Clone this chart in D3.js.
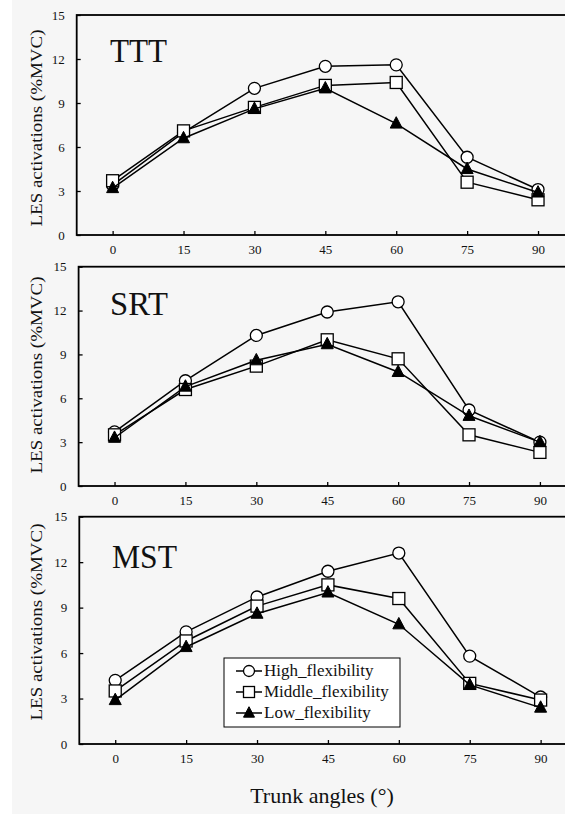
<!DOCTYPE html>
<html>
<head>
<meta charset="utf-8">
<script src="https://d3js.org/d3.v7.min.js"></script>
<style>
  body { margin: 0; background: #fff; }
  svg { display: block; }
  text { font-family: "Liberation Serif", "Times New Roman", serif; fill: #111; }
</style>
</head>
<body>
<svg id="chart" width="565" height="816"></svg>
<script>
// trunk angles (x categories)
var angles = [0, 15, 30, 45, 60, 75, 90];
var yTicks = [0, 3, 6, 9, 12, 15];

// values (%MVC)
var tttHigh   = [3.4, 7.0, 10.0, 11.5, 11.6, 5.3, 3.1];
var tttMiddle = [3.7, 7.1, 8.7, 10.2, 10.4, 3.6, 2.4];
var tttLow    = [3.2, 6.6, 8.6, 10.0, 7.6, 4.5, 2.9];

var srtHigh   = [3.7, 7.2, 10.3, 11.9, 12.6, 5.2, 3.0];
var srtMiddle = [3.5, 6.6, 8.2, 10.0, 8.7, 3.5, 2.3];
var srtLow    = [3.3, 6.8, 8.6, 9.7, 7.8, 4.8, 3.0];

var mstHigh   = [4.2, 7.4, 9.7, 11.4, 12.6, 5.8, 3.1];
var mstMiddle = [3.5, 6.8, 9.1, 10.5, 9.6, 4.0, 2.9];
var mstLow    = [2.9, 6.4, 8.6, 10.0, 7.9, 3.9, 2.4];

var seriesNames = ["High_flexibility", "Middle_flexibility", "Low_flexibility"];
var seriesSymbols = ["circle", "square", "triangle"];

var svg = d3.select("#chart");

// scanned-paper look
svg.append("rect").attr("x", 12).attr("y", 0).attr("width", 553).attr("height", 814).attr("fill", "#f6f6f6");

function marker(g, kind, cx, cy, size) {
  if (kind == "circle") {
    g.append("circle").attr("cx", cx).attr("cy", cy).attr("r", size / 2)
      .attr("fill", "#fff").attr("stroke", "#000").attr("stroke-width", 1.3);
  } else if (kind == "square") {
    g.append("rect").attr("x", cx - size / 2).attr("y", cy - size / 2)
      .attr("width", size).attr("height", size)
      .attr("fill", "#fff").attr("stroke", "#000").attr("stroke-width", 1.3);
  } else {
    var h = size * 0.95;
    g.append("path")
      .attr("d", "M" + cx + "," + (cy - h * 0.6) + "L" + (cx + size / 2) + "," + (cy + h * 0.4) + "L" + (cx - size / 2) + "," + (cy + h * 0.4) + "Z")
      .attr("fill", "#000").attr("stroke", "#000").attr("stroke-width", 1);
  }
}

function drawPanel(p) {
  var g = svg.append("g");
  // one 15° step is about 70.9 px
  var x = d3.scaleLinear().domain([-7.6, 97.6]).range([p.left, p.left + 105.2 * 70.9 / 15]);
  var y = d3.scaleLinear().domain([0, 15]).range([p.bottom, p.top]);

  // frame
  g.append("rect")
    .attr("x", x(-7.6)).attr("y", y(15))
    .attr("width", x(97.6) - x(-7.6)).attr("height", y(0) - y(15))
    .attr("fill", "none").attr("stroke", "#000").attr("stroke-width", 1.8);

  var xAxis = g.append("g").attr("transform", "translate(0," + y(0) + ")")
    .call(d3.axisBottom(x).tickValues(angles).tickSizeInner(-4).tickSizeOuter(0).tickPadding(10));
  var yAxis = g.append("g").attr("transform", "translate(" + x(-7.6) + ",0)")
    .call(d3.axisLeft(y).tickValues(yTicks).tickSizeInner(-4).tickSizeOuter(0).tickPadding(12));
  [xAxis, yAxis].forEach(function (a) {
    a.select(".domain").remove();
    a.selectAll("line").attr("stroke", "#000").attr("stroke-width", 1.3);
    a.selectAll("text").attr("font-family", "Liberation Serif").attr("font-size", 13).attr("fill", "#111");
  });

  // y label
  g.append("text")
    .attr("transform", "translate(42," + p.labelY + ") rotate(-90)")
    .attr("text-anchor", "middle")
    .attr("font-size", 17)
    .attr("textLength", 197).attr("lengthAdjust", "spacingAndGlyphs")
    .text("LES activations (%MVC)");

  // panel title
  g.append("text")
    .attr("x", p.titleX).attr("y", p.titleY)
    .attr("font-size", 34)
    .attr("textLength", p.titleW).attr("lengthAdjust", "spacingAndGlyphs")
    .text(p.title);

  var line = d3.line().x(function (d, i) { return x(angles[i]); }).y(function (d) { return y(d); });
  p.series.forEach(function (vals, k) {
    g.append("path").datum(vals).attr("d", line)
      .attr("fill", "none").attr("stroke", "#000").attr("stroke-width", 1.5);
    vals.forEach(function (v, i) {
      marker(g, seriesSymbols[k], x(angles[i]), y(v), 12);
    });
  });
}

drawPanel({ title: "TTT", left: 76.7, top: 15, bottom: 235, labelY: 128, titleX: 110, titleY: 62, titleW: 57,
  series: [tttHigh, tttMiddle, tttLow] });
drawPanel({ title: "SRT", left: 78.6, top: 266.7, bottom: 486, labelY: 375, titleX: 110, titleY: 315, titleW: 58,
  series: [srtHigh, srtMiddle, srtLow] });
drawPanel({ title: "MST", left: 79.3, top: 516.7, bottom: 744, labelY: 622, titleX: 112, titleY: 568, titleW: 65,
  series: [mstHigh, mstMiddle, mstLow] });

// legend
var lg = svg.append("g");
lg.append("rect").attr("x", 224).attr("y", 658).attr("width", 176).attr("height", 69)
  .attr("fill", "#fff").attr("stroke", "#000").attr("stroke-width", 1);
seriesNames.forEach(function (name, k) {
  var ry = 671 + k * 21;
  lg.append("line").attr("x1", 236).attr("x2", 262).attr("y1", ry).attr("y2", ry)
    .attr("stroke", "#000").attr("stroke-width", 1.5);
  marker(lg, seriesSymbols[k], 249, ry, 11);
  lg.append("text").attr("x", 264).attr("y", ry + 5).attr("font-size", 17).text(name);
});

// x label
svg.append("text").attr("x", 322).attr("y", 803).attr("text-anchor", "middle")
  .attr("font-size", 22).text("Trunk angles (°)");
</script>
</body>
</html>
